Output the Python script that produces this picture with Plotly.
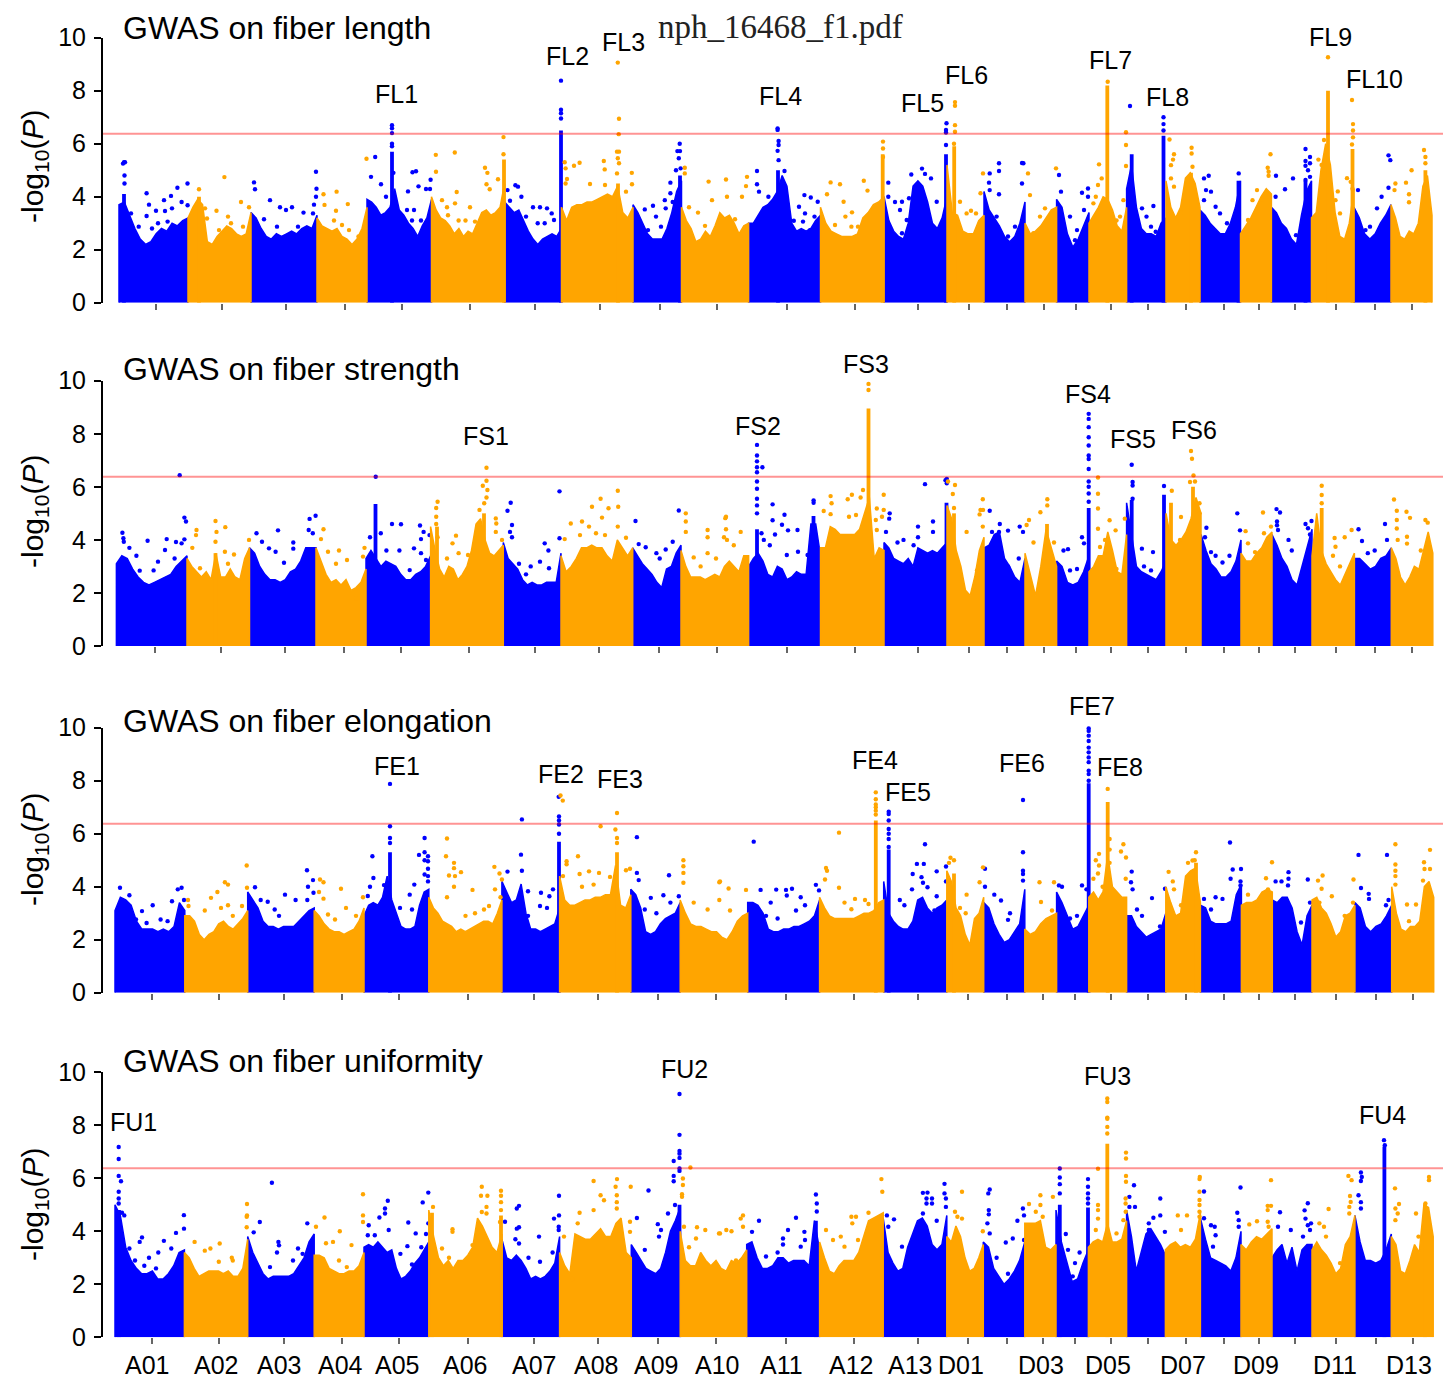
import numpy as np
import plotly.graph_objects as go

W, H = 1443, 1378
CHROMS = ["A01","A02","A03","A04","A05","A06","A07","A08","A09","A10","A11","A12","A13",
          "D01","D02","D03","D04","D05","D06","D07","D08","D09","D10","D11","D12","D13"]
THRESHOLD = 6.38

FL_edges = [119,188,251,317,367,431.5,504.6,561.5,633,681.5,748.6,820.5,884,947,984,1025,1056.6,1089,1126.6,1166,1200,1240.5,1271.4,1311.5,1354,1391,1432]
FS_edges = [116.4,187,249.5,316,366,430.6,503.3,561,632.7,681,748.6,820.5,884,947,984,1025,1056.6,1089,1126.6,1166,1201,1241,1272,1312,1354.4,1391.3,1432.8]
FE_edges = [115,184.8,247.7,314.2,364,428.8,501.9,559.6,630.8,680.2,747.7,819.6,883.7,946.8,983.7,1024.8,1056.6,1088.8,1126.6,1165.8,1200.4,1241.4,1272.3,1312,1354.9,1391.7,1433.7]
FU_edges = [115,184.4,247.7,314.2,364,428.8,501.9,559.6,631.3,680.2,746.7,819.6,883.2,946.8,983.3,1024.8,1056,1088.4,1126.6,1165.4,1200.4,1241,1272,1312,1354.9,1391.3,1433.2]

FL_ticks = [155.5,222,286,345,402,470,535,600,660,717,787,855,918,968.5,1007,1043.6,1075.5,1110.5,1148.3,1185.7,1223.5,1258.5,1294.5,1336,1375,1412]
FS_ticks = [154.6,220.7,285.4,344,400.8,469.3,534.5,599,659,717,787,855,918,968.5,1007,1043.6,1075.5,1110.5,1148.3,1185.7,1223.5,1258.5,1294.5,1336,1375,1412]
FE_ticks = [152,219,283.5,342,399,468,533.5,598,658,716,786,853.7,917.8,968,1006.8,1043,1075,1110.5,1148.3,1185.7,1223.5,1258.5,1295,1336,1376,1413]
FU_ticks = FE_ticks

# Dense body height along each chromosome (evenly spaced stations, -log10 P)
FL_ridge = [
 [3.7,3.8,3.3,2.8,2.4,2.2,2.3,2.6,2.8,2.7,3.0,2.9,3.1,3.2],[3.2,3.6,3.9,3.7,2.3,2.2,2.5,2.7,2.9,2.8,2.6,2.5,2.6,3.4],
 [3.4,3.2,2.8,2.5,2.4,2.6,2.5,2.6,2.7,2.6,2.8,2.9,2.8,3.3],[3.2,2.9,2.8,2.7,2.8,2.5,2.4,2.2,2.4,2.8,3.6],
 [3.9,3.8,3.6,3.3,3.4,3.6,4.3,3.5,3.3,3.0,2.8,2.5,2.9,3.2,3.9],[4.0,3.5,3.2,3.1,2.9,2.6,2.8,2.5,2.7,2.6,3.0,3.4,3.5,3.3,3.4,3.6,4.5],
 [3.8,3.6,3.4,3.5,3.1,2.7,2.4,2.2,2.4,2.5,2.6,2.5,2.8],[3.6,3.1,3.6,3.7,3.7,3.8,3.8,3.9,4.0,4.1,4.0,4.4,3.4,3.2,3.6],
 [3.7,3.4,3.0,2.6,2.4,2.4,2.4,2.8,3.4,4.2,4.6],[3.6,3.1,2.8,2.3,2.4,2.7,2.5,2.9,3.4,3.2,3.3,3.0,2.6,2.9,3.0],
 [3.0,3.0,3.3,3.6,3.7,3.9,4.2,4.8,4.4,3.0,2.7,2.8,2.7,2.8,3.1,3.3],[3.6,3.0,2.7,2.6,2.5,2.5,2.5,2.6,3.2,3.4,3.7,3.8,4.0],
 [4.0,3.1,2.7,2.5,2.4,3.0,4.4,4.6,4.4,3.8,3.0,2.8,3.2,4.0],[5.2,3.4,3.3,2.7,2.6,2.6,3.1,3.3],[4.2,3.5,3.2,2.9,2.5,2.3,2.5,3.0,3.8],
 [3.0,2.6,2.7,2.9,3.2,3.5,3.6],[3.9,3.6,2.6,2.1,2.4,2.9,3.4],[3.0,3.3,3.6,4.0,3.9,3.5,2.9,2.7,3.6],[4.3,5.2,3.6,2.8,2.6,2.6,2.5,3.0,3.2],
 [4.6,3.6,3.2,3.6,4.7,4.9,4.5,3.6],[3.5,3.3,3.0,2.8,2.6,2.6,3.0,3.6,4.6],[2.6,2.9,3.2,3.6,4.0,4.3,4.1],[3.6,3.4,3.0,2.8,2.4,2.2,3.3,4.2,4.6],
 [3.2,3.4,5.0,6.0,5.2,3.4,2.5,2.4,3.0,4.3],[3.6,3.2,2.6,2.4,2.6,3.0,3.3,3.7],[3.7,3.2,2.5,2.4,2.7,2.6,3.0,4.4,4.8,3.3]]
FS_ridge = [
 [3.1,3.4,3.3,2.9,2.6,2.4,2.3,2.4,2.5,2.6,2.7,3.0,3.2,3.4],[3.3,3.0,2.8,2.6,2.8,2.5,3.5,2.6,2.6,2.9,2.6,2.5,3.3,3.7],
 [3.7,3.5,3.0,2.7,2.5,2.5,2.4,2.5,2.8,2.9,3.2,3.7,3.7,3.7],[3.7,3.2,2.7,2.4,2.5,2.3,2.5,2.1,2.2,2.4,2.9],
 [3.3,3.6,3.3,3.0,3.2,3.1,3.0,2.7,2.5,2.5,2.7,2.8,3.0,3.4],[4.5,3.6,2.9,2.6,3.0,2.9,2.5,2.7,3.0,3.6,4.6,4.8,4.0,3.5,3.4,3.6,3.8],
 [3.9,3.3,3.1,2.9,2.5,2.3,2.4,2.3,2.3,2.4,2.4,2.4,3.5],[3.4,2.8,3.0,3.3,3.7,3.7,3.8,3.7,3.7,3.4,3.2,4.0,3.7,3.4,3.7],
 [3.7,3.4,3.1,2.9,2.7,2.4,2.2,2.9,3.0,3.5,3.8],[3.6,3.0,2.6,2.6,2.6,2.5,2.6,2.7,2.6,3.0,3.2,3.0,2.8,3.4,3.4],
 [3.0,3.3,3.5,3.2,2.7,2.6,3.0,2.9,2.5,2.6,2.8,2.7,2.7,4.6,4.6,3.4],[3.7,3.7,4.5,4.4,4.2,4.2,4.2,4.2,4.4,5.0,5.6,3.3,3.7,3.6],
 [3.9,3.7,3.3,3.2,3.1,3.3,3.0,3.7,3.6,3.5,3.6,3.5,3.7,3.9],[5.3,4.8,3.6,3.0,2.1,1.9,2.6,3.6,4.1],[3.7,3.8,4.2,4.3,3.3,3.0,2.6,2.4,3.3],
 [3.5,2.7,1.9,3.0,4.4,3.7,3.0],[3.2,3.0,2.4,2.3,2.4,2.8,3.4],[2.8,3.0,3.4,3.4,4.3,3.6,2.8,2.7,4.2],[5.4,4.2,3.0,2.8,2.7,2.6,2.5,2.8,3.2],
 [5.0,4.0,3.8,4.0,4.3,4.8,5.6,5.0],[4.2,3.6,3.1,2.9,2.6,2.6,2.8,3.2,4.0],[3.5,3.2,3.2,3.5,3.7,4.1,4.3],[4.2,3.8,3.3,3.0,2.5,2.3,3.0,3.6,4.4],
 [3.4,5.0,3.6,3.1,2.8,2.5,2.3,2.7,3.1,3.5],[3.3,3.3,3.1,2.9,3.0,3.3,3.4,3.7],[3.7,3.3,2.6,2.3,2.6,3.0,2.9,3.6,4.3,3.5]]
FE_ridge = [
 [3.1,3.6,3.5,3.3,2.7,2.4,2.4,2.4,2.3,2.4,2.3,2.5,3.4,3.1],[2.9,2.9,2.7,2.2,2.0,2.2,2.3,2.6,2.7,2.5,2.4,2.6,2.8,3.1],
 [3.8,3.5,3.2,2.7,2.5,2.5,2.4,2.5,2.5,2.5,2.7,2.9,3.1,3.2],[3.1,2.9,2.6,2.4,2.3,2.3,2.2,2.3,2.4,2.7,3.2],
 [2.9,3.3,3.4,3.3,3.6,4.4,3.5,3.0,2.5,2.4,2.4,2.5,3.3,3.8,3.9],[3.6,3.2,3.0,2.7,2.6,2.5,2.3,2.4,2.3,2.4,2.5,2.6,2.7,2.7,2.6,3.0,3.5],
 [4.2,3.8,3.4,3.5,4.1,3.0,2.4,2.4,2.3,2.4,2.5,2.6,3.2],[4.4,3.5,3.3,3.3,3.4,3.5,3.5,3.6,3.6,3.7,3.7,4.8,3.3,3.2,3.7],
 [3.9,3.7,3.2,2.3,2.2,2.3,2.6,2.8,2.9,3.0,3.4],[3.5,3.0,2.6,2.5,2.5,2.4,2.3,2.3,2.1,2.0,2.3,2.7,2.9,3.0],
 [3.4,3.4,3.3,3.0,2.4,2.3,2.3,2.4,2.4,2.5,2.5,2.6,2.7,2.9,3.5],[3.6,3.2,2.9,2.8,2.8,2.8,2.8,2.8,2.9,3.0,3.0,3.1,3.4,3.5],
 [4.2,3.0,2.7,2.5,2.4,2.4,2.7,3.5,3.6,3.2,3.0,3.2,3.3,3.5],[4.6,4.2,3.2,2.9,2.2,1.8,2.8,3.0,3.6],[3.4,3.2,2.6,2.2,1.9,2.0,2.3,2.6,3.9],
 [2.4,2.2,2.3,2.6,2.8,2.9,3.0],[3.8,3.4,2.9,2.4,2.5,2.9,3.3],[3.6,3.8,3.5,3.8,5.2,4.0,3.8,3.6,3.6],[2.9,2.9,2.5,2.3,2.1,2.2,2.3,2.4,3.0],
 [4.0,3.4,2.9,3.0,4.4,4.6,4.7,3.4],[3.3,3.2,2.7,2.6,2.6,2.6,2.7,3.7,4.1],[3.3,3.4,3.4,3.5,3.8,3.9,3.8],[3.5,3.4,3.6,3.6,3.2,2.3,1.8,2.9,3.3],
 [3.5,3.6,3.2,3.0,2.6,2.1,2.3,2.9,3.0,3.3],[3.4,3.2,2.5,2.3,2.5,2.6,2.9,3.3],[4.0,3.0,2.4,2.3,2.5,2.5,2.7,4.0,4.2,3.6]]
FU_ridge = [
 [5.0,4.6,3.4,2.9,2.6,2.4,2.4,2.5,2.2,2.2,2.4,2.7,3.2,3.3],[3.2,3.0,2.6,2.3,2.4,2.5,2.5,2.5,2.4,2.5,2.3,2.3,2.6,3.7],
 [3.8,3.2,2.8,2.4,2.2,2.3,2.3,2.3,2.3,2.4,2.7,3.0,3.6,3.9],[3.1,3.1,3.0,2.6,2.5,2.4,2.4,2.5,2.5,2.7,3.2],
 [3.4,3.5,3.4,3.6,3.4,3.2,3.3,2.6,2.2,2.3,2.5,2.8,3.0,3.3,3.6],[4.8,3.8,3.0,2.7,2.9,2.6,2.9,2.9,3.1,3.4,4.5,4.2,3.8,3.4,3.2,3.9],
 [3.7,3.0,2.9,3.1,2.9,2.6,2.2,2.3,2.2,2.3,2.5,2.8,3.8],[3.2,2.7,2.4,3.9,3.8,3.7,3.7,3.9,4.1,3.8,3.8,4.3,4.5,3.2,3.0],
 [3.5,3.2,2.9,2.6,2.5,2.4,2.6,3.2,4.0,4.4,4.9],[4.0,2.9,2.7,2.7,3.2,2.9,2.7,2.9,2.6,2.5,2.9,2.8,3.0,3.3],
 [3.5,3.6,3.0,2.6,2.6,2.7,3.0,3.0,2.8,2.9,2.9,2.9,2.7,4.4,3.3],[3.6,3.0,2.5,2.4,2.7,2.9,2.9,2.9,3.2,3.8,4.4,4.5,4.6,4.7],
 [4.5,3.2,2.8,2.5,2.6,3.4,3.9,4.4,4.5,4.2,3.5,3.3,3.5,4.6],[3.8,3.6,4.2,3.8,3.0,2.5,2.6,3.0,3.5],[3.6,3.4,2.6,2.3,2.0,2.2,2.5,2.9,3.6],
 [4.3,4.3,4.3,4.4,3.4,3.3,3.5],[4.8,3.6,2.9,2.1,2.2,2.8,3.3],[3.4,3.6,3.7,3.6,4.3,3.6,3.6,3.7,4.4],[4.8,3.8,2.5,3.2,3.9,4.1,3.8,3.5,3.1],
 [3.3,3.5,3.6,3.4,3.5,3.4,3.7,4.7],[4.5,3.7,3.0,2.9,2.8,2.7,2.5,3.0,4.0],[3.5,3.3,3.6,3.8,3.7,3.9,4.1],[3.0,3.3,3.5,2.8,3.4,2.5,3.3,3.5,3.5],
 [3.3,3.6,3.3,3.1,2.8,2.4,2.6,3.5,3.8,4.6],[4.6,3.6,2.9,2.9,2.8,2.9,3.3,3.9],[3.8,3.5,2.5,2.4,2.9,3.5,3.2,5.0,4.9,3.8]]

# Narrow peaks: position, height of the solid column
FL_peaks = [(124,4.1),(199,4.0),(392,5.7),(504,5.4),(561,6.5),(618,4.5),(680,4.8),(778,5.0),(882.7,5.6),(946,5.6),(954.2,5.9),(1107.3,8.2),(1131.7,5.6),(1163.5,6.3),(1191,4.9),(1238.5,4.6),(1328,8.0),(1352.5,5.8),(1425.4,5.0),(1305.5,4.6)]
FS_peaks = [(375.5,5.35),(215.5,3.5),(437,4.5),(484,5.0),(757,4.4),(813.5,4.9),(868.5,8.95),(946.5,5.4),(954,5.0),(1047,4.6),(1088.7,5.2),(1131.7,5.5),(1164,5.7),(1171,5.4),(1193,6.0),(1321.7,5.2)]
FE_peaks = [(390,5.3),(559,5.7),(617,5.3),(875.8,6.5),(888.7,5.4),(1088.7,7.9),(1107.7,7.2),(1196,4.9),(954,4.5)]
FU_peaks = [(119,4.8),(432,4.7),(501,4.6),(679.5,5.0),(815.9,4.4),(1059.8,5.0),(1088,4.9),(1107.3,7.3),(1384.4,7.2),(1425,5.0)]

# Individually visible SNPs
FL_dots = [(124,5.3),(123,5.25),(125,5.3),(124.5,4.8),(124.5,4.5),(146.6,4.13),(149,3.7),(146.6,3.27),(164,3.87),(171,4.03),(177.4,4.34),(187.5,4.5),(181.6,3.8),(131,3.37),(138.7,2.87),(156,3.47),(165,3.46),(172,3.56),(187.6,3.68),(152,2.8),(158,3.0),(167.6,3.06),
(224.4,4.74),(199,4.28),(241,3.8),(205,3.56),(216.5,3.47),(228,3.25),(207,3.18),(219,2.74),(231,3.0),(243,2.87),(249,3.6),
(254,4.54),(255,4.28),(270,3.87),(280,3.6),(292,3.6),(286,3.5),(303.5,3.4),(316,4.94),(316.5,4.3),(316,4.0),(314,3.7),(264,3.15),(277,2.87),(298,2.87),(313,3.37),
(323.5,4.09),(336.6,4.19),(347.8,3.72),(324.5,3.69),(336,3.47),(342,2.93),(349,2.74),(358.5,2.5),(334,3.1),
(366.5,5.43),(375.2,5.5),(371,4.75),(381,4.47),(386,4.0),(412.5,4.92),(416,4.96),(408,4.2),(418.5,4.39),(430.6,4.64),(426,4.29),(430,4.29),(392,6.7),(392,6.58),(392,6.4),(392,6.0),(392,5.9),(393.4,4.9),(407,3.5),(414,3.5),(421,3.1),(412,3.1),
(435.8,5.58),(454.8,5.67),(436,4.94),(485,5.09),(487.4,4.9),(503.5,6.25),(503.5,5.6),(498,4.66),(486.5,4.47),(489.7,4.28),(456.7,4.18),(455,3.75),(470,3.6),(447,3.6),(448,3.3),(458.6,3.1),(465.5,3.1),(442,3.87),(475,3.06),
(507.5,4.25),(515.4,4.43),(518,4.38),(510,3.85),(521.4,4.0),(533,3.6),(540,3.6),(547,3.56),(551.7,3.37),(512,3.37),(526,3.25),(537.7,3.0),(544.7,3.0),(554,3.12),
(561,8.38),(561,7.28),(561,7.15),(561,6.95),(564.7,5.3),(565.6,5.07),(579.6,5.28),(574,5.17),(603.8,5.35),(604.7,5.03),(617.8,9.06),(619,6.94),(618.7,6.36),(617,5.7),(619,5.7),(617.8,5.45),(619,5.26),(617,4.88),(631.8,4.9),(632,4.47),(626,4.19),(567,4.67),(590,4.48),(605,4.44),(565.6,4.5),
(679.7,6.0),(677.4,5.72),(680,5.72),(678.8,5.45),(676,5.0),(680.6,5.07),(670.4,4.53),(670.4,4.13),(664.8,3.87),(653,3.66),(644.8,3.52),(672.7,3.8),(656,3.25),(661,2.87),(665.7,3.56),(648,2.74),
(684.8,5.09),(684.8,4.88),(708.6,4.57),(726,4.65),(747,4.75),(746,4.4),(727,4.0),(742,4.0),(735,3.15),(689,3.6),(698,3.4),(712,3.87),(705,2.9),
(777.6,6.58),(777.6,6.52),(778.6,6.1),(778.6,5.95),(777.6,5.73),(778.6,5.38),(757,4.97),(757,4.47),(759,4.19),(768.4,4),(784.5,4.97),(804.4,4.06),(810.8,3.97),(817.7,3.81),(799,3.62),(805,3.37),(793.8,3.09),(814.5,3.25),(789,2.74),(803,3.06),(810,2.74),
(830.6,4.54),(840,4.47),(863.8,4.6),(827,4.09),(843.6,3.81),(867.5,4.23),(883,6.08),(883,5.82),(883,5.5),(852,3.41),(845.4,3.25),(835,2.93),(858,2.87),(851.4,2.87),
(888.3,4.53),(911.3,4.84),(922,5.06),(925,4.86),(931,4.69),(909,3.94),(902,3.81),(900,3.5),(906.7,3.12),(902,2.62),(904,2.36),(936.7,3.81),(888.3,4.0),(895,3.8),(946,6.52),(946,6.42),(946.5,6.77),(946,5.95),
(955,7.57),(955,7.43),(955,6.7),(955,6.45),(954,6.0),(983,4.88),(980.5,4.13),(960,3.81),(971,3.47),(966.6,3.37),(976,3.37),
(999,5.26),(999,4.97),(989.7,4.88),(989,4.53),(1022,5.27),(1023.4,5.26),(1022,4.5),(989.7,4.25),(999,4.09),(996.6,3.25),(1015,2.87),(1008,2.5),
(1028,4.88),(1056,5.07),(1059,4.82),(1030,4.06),(1045,3.56),(1040,3.25),(1033.5,2.62),
(1061,4.19),(1082,4.15),(1088,4.31),(1088,4.0),(1070,3.25),(1077,2.74),(1084,3.5),(1075,2.36),
(1107.7,8.34),(1126,6.43),(1126,5.95),(1126,5.16),(1099,5.22),(1101.7,4.69),(1098,4.44),(1095.8,4.0),(1093.4,3.75),(1116.5,3.1),(1123.4,3.87),(1120,3.25),
(1130,7.42),(1163.5,7.0),(1163.5,6.74),(1163.5,6.5),(1142,3.56),(1153.4,3.65),(1146.5,3.25),(1137,3.12),(1151,2.87),(1155.7,2.68),
(1169.5,6.16),(1174,5.6),(1173,5.4),(1171,5.19),(1191.6,5.85),(1191.6,5.63),(1192.5,5.13),(1171,4.69),(1174,4.38),(1181,3.4),
(1208.7,4.79),(1204,4.69),(1206,4.25),(1211,4.19),(1238.7,4.88),(1215.6,3.62),(1220,3.37),(1227,3),(1204,3.87),
(1267.7,5.09),(1268.6,4.94),(1270.5,5.6),(1268.6,4.79),(1257,4.25),(1252.5,3.87),(1248,3.12),(1262,3.9),
(1305.5,5.8),(1310,5.5),(1305.5,5.35),(1305.5,5.17),(1310,5.26),(1293,4.69),(1276,4.79),(1285,4.28),(1308,5.0),(1310,4.75),(1305.5,4.63),(1275.6,4.0),(1296,2.55),(1299,2.1),
(1328,9.26),(1352,7.65),(1353,6.74),(1353,6.5),(1353,6.24),(1352,5.97),(1324,6.14),(1318.4,5.4),(1321.6,5.2),(1337.8,4.2),(1335.5,3.87),(1340,3.37),(1347,4.7),(1350.7,4.56),(1352.5,4.3),
(1358,4.25),(1388.5,5.56),(1390.3,5.38),(1388.5,4.34),(1381.6,4),(1377,3.56),(1370,2.87),(1365.5,2.74),
(1411.6,5.0),(1406,4.53),(1409,4.09),(1409,3.79),(1424,5.76),(1425.4,5.5),(1425.4,5.26),(1395.4,4.5),(1394.5,4.25)]
FS_dots = [(179.7,6.44),(184.4,4.84),(186,4.69),(122.4,4.27),(123.4,4.06),(123.8,3.93),(129.4,3.7),(147.6,3.97),(166.7,4.03),(176,3.92),(181.6,3.87),(184.4,4.02),(165,3.62),(136.4,3.4),(158,3.18),(139.7,2.84),(153.6,2.85),(174.6,3.3),
(215.5,4.71),(225.3,4.48),(196.5,4.37),(196,4.18),(216.5,4.3),(192.3,3.7),(215.5,3.93),(224.9,3.55),(234,3.45),(249,4),(228,3.1),(200,2.93),
(256.5,4.25),(278,4.36),(262,3.93),(269,3.68),(275.6,3.55),(293.3,3.9),(309.6,4.79),(315.6,4.91),(308.7,4.37),(312.8,4.25),(293.3,3.67),(284,3.14),
(323.5,4.4),(321,4.03),(328,3.55),(339,3.6),(347,3.24),(363,3.37),(364.5,3.7),(336,3.1),(356,1.8),
(375.7,6.38),(370,4.1),(392,4.6),(401,4.59),(380.8,4.25),(420,4.54),(423.6,4.3),(429.5,4.18),(421,4.03),(386.4,3.6),(399.4,3.6),(414,3.68),(421,3.5),(426,3.24),(409.7,2.86),
(437.6,5.44),(436.2,5.2),(436.2,4.87),(436.2,4.6),(456,4.16),(452.5,3.87),(437.6,4.1),(486.5,6.72),(486.5,6.23),(482.8,6.04),(487.4,5.88),(486.5,5.6),(484.2,5.38),(479.5,5.13),(495.8,4.81),(496.3,4.62),(495.8,4.3),(502,4),(468,3.43),(447,3.3),(458.6,3.5),
(510.7,5.4),(507.5,5.1),(512,4.56),(510,4.3),(512,4.1),(559.5,5.83),(559.5,4.06),(544.7,3.87),(548.4,3.6),(519,3.1),(530.7,3),(540,3.18),(549,2.93),(526,2.7),
(570.8,4.62),(564.7,4.03),(600.6,5.55),(592,5.25),(608.5,5.19),(617.8,5.85),(618.2,5.25),(602,4.84),(582,4.69),(589,4.5),(617.8,4.5),(580,4.18),(596,4.25),(605,4.18),(626,4.08),
(635.5,4.71),(638.7,3.84),(678.8,5.11),(645.7,3.72),(656.4,3.5),(665.7,3.64),(672.7,3.93),(659.7,3.3),(661,1.9),
(685.8,5.0),(685.8,4.69),(685.8,4.3),(707.6,4.37),(707.6,4.1),(725.3,4.82),(724,4.1),(693.7,3.34),(707.6,3.5),(716,3.3),(700.6,3.0),(726,4.87),(726,4.4),(740.7,4.3),(727,4.0),(733.8,3.8),
(757,7.58),(757,7.18),(757,6.96),(757,6.74),(757,6.55),(757,6.2),(762.4,6.74),(757,5.93),(757,5.55),(757,5.3),(757,5.0),(772.6,5.34),(772.6,4.74),(784.5,4.95),(782,4.57),(788,4.36),(797.5,4.37),(775,4.2),(761.5,4.25),(763.8,4.0),(769.8,3.8),(798,3.55),(786.8,3.43),(807.6,3.43),(813.6,5.49),(813.6,5.4),
(830.6,5.65),(851.9,5.7),(847.7,5.53),(863,5.88),(860.6,5.6),(823.7,5.09),(831.6,5.38),(830.6,4.97),(849,4.87),(856,4.94),(868.5,9.88),(868.5,9.65),(876.8,5.18),(883.7,5.7),(883.7,5.13),(882,4.87),(875.8,4.75),(876.8,4.37),
(889.7,5.0),(889.2,4.8),(886,4.3),(925,6.1),(933,4.69),(933,4.3),(918,4.5),(918,4.1),(903.5,4.0),(913.6,3.8),(946.8,6.3),(946.8,6.13),(897.5,3.9),(945.5,6.25),(948,6.2),
(955,6.07),(952.8,5.73),(954,5.2),(966.6,4.3),(982.8,5.53),(980.5,5.13),(979.6,4.96),(983,5.13),(982.8,4.5),(977,2.85),
(989.7,5.1),(999.8,4.6),(999,4.3),(992,4.3),(1008,4.35),(1019.7,4.5),(1023,4.3),(996.6,4.1),(1018.8,3.3),(1008,3.0),
(1029,4.75),(1040.4,5.04),(1047.3,5.53),(1047.3,5.3),(1026.6,4.56),(1033.5,3.9),
(1054,3.9),(1082,4.1),(1063.5,3.6),(1068,3.65),(1077,2.9),(1084,3.87),(1070,2.85),
(1088.7,8.75),(1088.7,8.56),(1088.7,8.25),(1088.7,7.87),(1088.7,7.56),(1088.7,7.18),(1088.7,7.05),(1088.7,6.67),(1088.7,6.2),(1088.7,6.0),(1088.7,5.75),(1088.7,5.44),
(1098,6.35),(1098,5.74),(1098,5.18),(1098,4.42),(1109.6,4.74),(1100,3.73),(1105,4.0),(1115.6,4.36),(1124.8,4.8),(1116.5,2.9),
(1131.7,6.83),(1132.6,6.18),(1132.6,6.05),(1164,6.03),(1132.6,5.55),(1141.9,3.67),(1153,3.54),(1144,3.0),(1151,2.85),
(1191,7.35),(1192,7.06),(1193.5,6.43),(1190,6.18),(1195,6.2),(1171.8,5.85),(1199.5,5.38),(1199.5,5.0),(1181,4.86),(1180,4.0),
(1237.3,5.0),(1240,4.36),(1206.4,4.46),(1205,4.1),(1211,3.54),(1229.5,3.4),(1215.6,3.4),(1222.5,3.15),
(1263,5.03),(1245.6,4.33),(1248,3.87),(1264,4.25),(1271,4.5),(1255,3.54),(1268.6,4.0),
(1276.5,5.16),(1280,5.03),(1277,4.69),(1277,4.55),(1278,4.37),(1288.5,4.0),(1305.5,4.6),(1311.5,4.71),(1308,4.44),(1310,4.2),(1291.8,3.6),
(1321.7,6.04),(1321.7,5.69),(1321.7,5.38),(1334.6,4.07),(1344.7,4.1),(1351.6,4.37),(1335.5,3.74),(1333,3.4),(1340,3.0),
(1358.5,4.4),(1362,3.96),(1385,4.6),(1387,4.0),(1374.7,3.6),(1367.8,3.5),
(1394,5.52),(1396.8,5.1),(1406.5,5.06),(1410,4.83),(1396.8,4.75),(1396.8,4.43),(1407,4.12),(1407,3.86),(1425.4,4.75),(1427.7,4.65),(1420.8,3.6),(1397.7,4.0)]
FE_dots = [(120,3.96),(129.4,3.68),(142,3.08),(152.7,3.3),(160.6,2.76),(167.6,2.7),(172,3.45),(177.8,3.9),(181.6,3.96),(184,3.5),(136,2.76),(146.6,2.63),
(188,3.5),(188.5,3.27),(211,3.58),(217.4,3.8),(224.9,4.17),(228,4.08),(246.7,4.8),(228,3.3),(221,3.2),(232.8,2.9),(242,3.27),(247,3.96),(204.8,3.1),
(255,3.98),(260.7,3.5),(267.7,3.43),(285,3.7),(307,4.62),(313,4.25),(308,4.0),(313.5,3.77),(279,2.9),(295.6,3.5),(307.3,3.5),(274.7,3.14),
(320,4.27),(323.5,4.17),(341,3.92),(319,3.8),(323.5,3.55),(328,2.95),(335,2.76),(346,3.2),(363,3.6),(356,2.9),
(390,7.88),(390,6.28),(390,5.84),(390,5.65),(372.4,5.15),(373.4,4.33),(419,5.2),(424.6,5.3),(424.6,5.84),(428,5.15),(428,4.96),(424.6,5.0),(428,4.68),(424.6,4.46),(428,4.4),(428,4.2),(414.3,4.08),(409.7,3.7),(400,3.2),(412,3.14),(384,4.06),(370,4.0),(367.8,3.65),
(447,5.82),(446,5.15),(454,4.9),(454,4.7),(461,4.55),(449,4.42),(455,4.4),(472.5,3.88),(494.4,4.75),(499.5,4.5),(501.9,4.27),(454,4.0),(447,3.6),(495,3.9),(500.5,3.6),(484,3.14),(465.5,2.9),(475,3.0),(489,3.27),
(521.9,6.54),(521,5.21),(521.9,4.6),(507.5,4.57),(528,3.83),(541,3.77),(553,3.9),(549.4,3.64),(540,3.27),(528,2.9),(547,3.2),
(560.5,7.44),(558.7,7.39),(562.8,7.25),(559,6.65),(559,6.5),(559,6.35),(559,6.0),(566.6,4.96),(566.6,4.85),(578,5.15),(600.6,6.28),(617,6.78),(615.4,6.16),(617,5.84),(617,5.65),(579.6,4.48),(589,4.58),(599,4.52),(610,4.37),(626,4.62),(630,4.68),(582,4.0),(593.6,4.08),(563,4.4),
(636.9,5.87),(636.9,4.52),(638.7,4.25),(669,4.43),(663.4,3.68),(650.8,3.58),(644.8,3.14),(656.4,3.0),(670.4,3.4),(678.8,3.64),
(683.4,5.0),(683.4,4.77),(683.4,4.52),(683.4,4.15),(719.3,4.17),(728.6,3.93),(693.7,3.4),(707.6,3.14),(719.3,3.5),(720,4.2),(746,3.88),(730,3.1),
(753.7,5.7),(760.6,3.88),(770.7,3.4),(776.2,3.89),(786,3.88),(792,3.92),(800.7,3.6),(815.9,4.07),(819,3.86),(786.8,3.67),(805,3.3),(796,3.1),(766,2.9),(777.6,2.8),
(839,6.04),(826,4.71),(827,4.6),(825,4.27),(839,3.96),(844.5,3.4),(855,3.54),(865,3.5),(868.5,3.35),(851.4,3.15),
(875.8,7.56),(875.8,7.3),(875.8,7.1),(875.8,7.0),(875.8,6.87),(875.8,6.72),
(888.7,6.83),(888.7,6.74),(888.7,6.5),(888.7,6.18),(888.7,6.0),(888.7,5.8),(888.7,5.5),
(925,5.6),(916.9,4.86),(923.8,4.86),(912.7,4.48),(921.5,4.36),(936.7,4.58),(946,4.76),(946,4.2),(923,4.15),(912,3.9),(936.7,3.64),(927.5,3.98),(904.4,3.3),(899.8,3.5),(934.4,3.1),
(950.5,5.09),(954,5.0),(949,4.9),(966.6,3.7),(960,3.2),(965.7,3.0),
(983,4.73),(985,4.68),(1023,7.27),(1023,5.3),(1023,4.6),(1023,4.48),(1023,4.23),(979.6,4.17),(985,4.0),(994.3,3.7),(1001,3.48),(1010,3),(1008,2.75),
(1039.5,4.17),(1041,3.42),(1054,4.17),(1052,3.1),
(1058.9,4.05),(1062,4.0),(1082,4.05),(1077,2.9),(1070,2.8),(1086.5,3.9),
(1088.7,9.97),(1088.7,9.88),(1088.7,9.7),(1088.7,9.5),(1088.7,9.25),(1088.7,9.07),(1088.7,8.88),(1088.7,8.7),(1088.7,8.38),(1088.7,8.25),(1088.7,8.0),
(1107.7,7.69),(1123.4,5.6),(1121,5.33),(1126,5.1),(1099,5.24),(1095.8,5),(1099,4.8),(1098,4.5),(1125.7,4.3),(1109.6,5.8),(1109.6,5.4),(1109.6,4.9),(1093.4,4.3),(1102.6,4.0),
(1131.7,4.57),(1131,4.17),(1132.6,3.9),(1152,3.57),(1165,3.92),(1137,3.14),(1142,2.9),(1160,2.5),
(1168.6,4.56),(1172.8,4.2),(1196,5.3),(1192.5,4.99),(1194.7,5.0),(1188,4.9),(1181,3.3),(1174,3.9),
(1230,5.67),(1232.7,4.65),(1241,4.67),(1230.6,4.3),(1240.5,4.2),(1240.5,4.05),(1215.6,3.6),(1204,3.54),(1222.5,3.54),(1211,3.14),
(1272,4.92),(1266,4.32),(1248,3.7),(1268,3.9),(1257,3.3),
(1288.5,4.55),(1275.6,4.2),(1281.5,4.2),(1288.5,4.3),(1288,4.05),(1307.8,4.27),(1310,3.4),(1301,2.65),
(1322.6,4.42),(1318,4.23),(1321.6,3.92),(1331.8,3.64),(1319.4,3.4),(1344.7,2.9),(1353,3.4),(1353.5,4.27),
(1358.5,5.2),(1387,5.2),(1361,3.95),(1368.7,3.73),(1369,3.54),(1388.5,3.5),(1386,3.3),
(1395.4,5.6),(1395.4,4.84),(1395.4,4.6),(1395.4,4.4),(1395.4,4.08),(1424,4.92),(1430,5.39),(1424.5,4.67),(1430,4.67),(1423,4.23),(1407,3.33),(1416,3.33),(1409,2.7)]
FU_dots = [(118.7,7.18),(118.7,6.73),(118.7,6.09),(121,5.89),(118.7,5.49),(118.7,5.24),(118.7,5.05),(122,4.7),(124.3,4.6),(183.9,4.61),(184,4.1),(176,3.94),(163.9,3.64),(142,3.77),(139.7,3.6),(171.3,3.35),(158.3,3.2),(149,3.0),(129.4,3.35),(135,2.9),(144.3,2.7),(156,2.6),
(194.6,3.6),(204.8,3.27),(210.4,3.35),(219.7,3.54),(231.8,3),(247,5.03),(246.7,4.55),(247,4.6),(246.7,4.15),(232.8,2.9),(218.8,2.85),
(271.9,5.83),(259.8,4.35),(253.7,3.96),(278.4,3.6),(279,3.47),(298,3.35),(307.3,4.3),(302.6,3.15),(293,2.9),(277,3.2),(270,2.65),
(316,4.17),(324.5,4.52),(339.8,4),(333,3.6),(339,2.9),(351.5,3.48),(363,5.4),(363,4.6),(363,4.35),(326,3.55),(346.8,2.65),
(387.8,5.15),(385,4.86),(385,4.67),(379.4,4.52),(368.7,4.23),(367.8,3.85),(374.8,3.85),(388.7,4.05),(408.3,4.33),(422.7,5.09),(428.3,5.46),(415.7,3.92),(428.3,4.3),(426,3.9),(407.4,3.44),(400.4,3.15),(421.3,3.4),(412,2.75),
(433,4.92),(452.5,4.08),(452.5,3.98),(481.8,5.68),(481,5.34),(487.4,5.34),(486.5,4.92),(481.8,4.73),(486.5,4.67),(501,5.53),(501,5.34),(501,5.1),(501,4.8),(500,4.35),(442,3.35),(449,3.0),(472.5,3.48),
(519,4.96),(516.8,4.86),(505,4.36),(519,4.15),(516.8,4.1),(539,3.8),(515.4,3.7),(519,3.54),(554,4.48),(559,5.34),(559,4.6),(558.7,4.17),(558.7,4.05),(552.6,3.2),(528.5,3),(540,2.85),
(593.6,5.9),(617,5.97),(615.6,5.68),(630.7,5.68),(600.6,5.36),(604,5.17),(616.8,5.36),(616.8,5.1),(593.6,4.8),(579.6,4.7),(616.8,4.86),(564,3.8),(577.7,4.3),(630,4.36),(630,3.98),(572.6,2.2),
(636.9,4.5),(648.5,5.54),(673.7,6.65),(673.7,6.09),(673.7,5.89),(679.5,9.18),(679.5,7.64),(679.5,7.03),(679.5,6.93),(679.5,6.77),(679.5,6.37),(679.5,6.28),(675,4.99),(668,4.67),(657.8,4.27),(661,4.05),(659,3.8),(644.8,3.3),
(682.9,5.99),(682.9,5.75),(682,5.4),(682,5.3),(690.4,6.41),(684,4.17),(697,4.15),(705.3,4.05),(696,3.73),(719,3.92),(726.3,4.05),(689,3.4),(743,4.6),(740.7,4.48),(731.5,4.0),(720,3.92),(743,4.17),(736,2.9),
(759,4.4),(752,3.98),(796,4.51),(788,4.05),(783,3.73),(804.4,3.98),(805,3.67),(800.7,3.42),(815.9,5.39),(816.8,5.05),(816.8,4.75),(766,3.05),(777.6,3.2),(783,3.5),
(881.4,5.97),(882.3,5.49),(851.4,4.55),(856,4.55),(852.3,4.3),(868.5,4.7),(826,4.05),(840.8,3.8),(833,3.67),(858,3.67),(844.5,3.42),
(922.9,5.45),(927.5,5.46),(926.5,5.24),(932,5.24),(926.5,5.05),(932,5.05),(922.9,4.67),(944.5,5.79),(944.5,5.43),(945.9,5.24),(945.9,4.92),(886.9,4.6),(894,4.45),(888.3,4.17),(902,3.42),(911.3,3.55),(936.7,4.4),
(962,5.49),(955,4.74),(982.8,4),(962,4.48),(957.4,4.55),
(989.7,5.58),(988.3,5.43),(988.8,4.8),(988.8,4.64),(987.4,4.3),(989.7,3.92),(1005.8,3.58),(996.6,3),(1012.8,3.73),(1022.9,4.86),(1017.4,4.4),(1024,4.6),(1024,3.67),(1008,2.4),
(1040.4,5.36),(1052.9,5.3),(1029,5.03),(1040.4,4.99),(1035.8,4.74),(1042.7,4.55),
(1059.8,6.37),(1059.8,6.03),(1059.8,5.78),(1059.8,5.43),(1065.8,3.9),(1068,3.3),(1079.6,3.2),(1075,2.8),(1072.7,2.3),(1072.7,1.72),
(1088,5.97),(1088,5.68),(1088,5.43),(1088,5.24),(1088,5.05),
(1098,6.36),(1098,4.99),(1098,4.8),(1098,4.48),(1095.8,4.05),(1107.3,9.01),(1107.3,8.88),(1107.3,8.29),(1107.3,8.25),(1107.3,7.94),(1107.3,7.69),
(1126,6.97),(1126,6.75),(1126,6.09),(1126,5.87),(1125.6,5.24),(1125.6,5.05),(1125.7,4.74),(1123.4,4.42),(1116.5,3.92),
(1134,5.74),(1129.4,5.3),(1129.4,4.92),(1135,4.92),(1160.3,5.24),(1160.3,4.6),(1153.4,4.51),(1148.8,4.3),(1164.9,3.98),(1148.8,4.05),
(1199.8,6.05),(1199.5,5.97),(1199.5,5.49),(1199.5,5.18),(1199.5,4.99),(1199.5,4.74),(1199.5,4.55),(1177.8,4.6),(1187,4.6),(1181,4.05),
(1204,5.5),(1204,4.49),(1211,4.23),(1214.7,4.17),(1215.6,3.85),(1213,3.42),(1240.5,5.65),(1237.3,4.7),(1238.7,4.42),(1238.7,4.17),(1229.5,2.3),
(1271,5.93),(1267.7,4.96),(1271,4.96),(1267.7,4.8),(1267.7,4.36),(1257,4.38),(1249.3,4.26),(1268.6,4.17),
(1280,4.72),(1278,4.17),(1290.8,4.05),(1307.8,5.06),(1304.6,4.79),(1305.5,4.48),(1307.8,4.23),(1310,4.05),(1311,4.3),(1303,3.8),
(1328.6,4.84),(1319.4,4.3),(1324,4.17),(1326,3.8),(1348.4,6.09),(1351.6,5.93),(1350,5.33),(1350.7,5.11),(1349.3,4.92),(1349.3,4.67),(1340,2.8),
(1360.9,6.22),(1361.8,6.05),(1360.9,5.9),(1358.5,5.36),(1360.9,5.1),(1360.9,4.86),(1384,7.44),(1384.8,7.25),
(1395,5.62),(1399,5.03),(1395.4,4.86),(1397.7,4.67),(1395.4,4.42),(1416,4.67),(1418.5,3.8),(1429,6.05),(1429,5.93),(1425.4,5.05)]

PANELS = [
 ("GWAS on fiber length", FL_edges, FL_ticks, FL_ridge, FL_peaks, FL_dots, (37.7, 302.7), 28, 167),
 ("GWAS on fiber strength", FS_edges, FS_ticks, FS_ridge, FS_peaks, FS_dots, (380.7, 646), 369, 512),
 ("GWAS on fiber elongation", FE_edges, FE_ticks, FE_ridge, FE_peaks, FE_dots, (727.7, 992.7), 721, 850),
 ("GWAS on fiber uniformity", FU_edges, FU_ticks, FU_ridge, FU_peaks, FU_dots, (1072.3, 1337.3), 1061, 1205),
]
PEAK_LABELS = [("FL1",396,94),("FL2",567,56),("FL3",623,42),("FL4",780,96),("FL5",922,103),("FL6",967,75),("FL7",1110,60),("FL8",1167,97),("FL9",1330,37),("FL10",1374,79),
 ("FS1",486,436),("FS2",758,426),("FS3",866,364),("FS4",1088,394),("FS5",1133,439),("FS6",1194,430),
 ("FE1",397,766),("FE2",561,774),("FE3",620,779),("FE4",875,760),("FE5",908,792),("FE6",1022,763),("FE7",1092,706),("FE8",1120,767),
 ("FU1",133,1122),("FU2",684,1069),("FU3",1107,1076),("FU4",1382,1115)]
AXIS_LABELS = [("A01",147),("A02",216),("A03",279),("A04",340),("A05",397),("A06",465),("A07",534),("A08",596),("A09",656),("A10",717),("A11",781),("A12",851),("A13",910),("D01",961),("D03",1041),("D05",1108),("D07",1183),("D09",1256),("D11",1335),("D13",1409)]

BLUE, ORANGE = "#0000ff", "#ffa500"
SANS = "Liberation Sans, Arial, sans-serif"
px = lambda v: v / W
py = lambda v: 1 - v / H

fig = go.Figure()
annotations, shapes = [], []
layout = {}
for i, (title, edges, ticks, ridge, peaks, dots, (ytop, ybot), ytitle, ylab) in enumerate(PANELS):
    n = "" if i == 0 else str(i + 1)
    xa, ya = f"x{n}", f"y{n}"
    edges_a = np.array(edges)
    colour_of = lambda x: (np.searchsorted(edges_a, x) - 1) % 2  # 0 blue, 1 orange
    for c, col in enumerate((BLUE, ORANGE)):
        xs, ys = [], []
        for k, r in enumerate(ridge):
            if k % 2 != c:
                continue
            st = np.linspace(edges[k], edges[k + 1], len(r))
            xs += [edges[k]] + list(st) + [edges[k + 1], None]
            ys += [0] + list(r) + [0, None]
        fig.add_trace(go.Scatter(x=xs, y=ys, mode="lines", fill="toself", fillcolor=col,
                                 line=dict(width=1.5, color=col), xaxis=xa, yaxis=ya,
                                 hoverinfo="skip", showlegend=False))
        sx, sy = [], []
        for x, h in peaks:
            if colour_of(x) == c:
                sx += [x, x, None]
                sy += [0, h, None]
        fig.add_trace(go.Scatter(x=sx, y=sy, mode="lines", line=dict(width=3.8, color=col),
                                 xaxis=xa, yaxis=ya, hoverinfo="skip", showlegend=False))
        dx = [d[0] for d in dots if colour_of(d[0]) == c]
        dy = [d[1] for d in dots if colour_of(d[0]) == c]
        fig.add_trace(go.Scatter(x=dx, y=dy, mode="markers", marker=dict(size=4.4, color=col),
                                 xaxis=xa, yaxis=ya, cliponaxis=False, showlegend=False))
    layout[f"xaxis{n}"] = dict(domain=[px(103), 1], range=[103, 1443], anchor=ya, showgrid=False, zeroline=False,
                               showline=False, tickmode="array", tickvals=ticks, showticklabels=False, automargin=False,
                               ticks="outside", ticklen=6, tickwidth=1.5, tickcolor="#666666")
    layout[f"yaxis{n}"] = dict(domain=[py(ybot), py(ytop)], range=[0, 10], anchor=xa, showgrid=False, zeroline=False,
                               showline=True, linecolor="black", linewidth=2, tickmode="array", tickvals=[0, 2, 4, 6, 8, 10],
                               ticks="outside", ticklen=7, tickwidth=2, tickcolor="black", ticklabelstandoff=3, automargin=False,
                               tickfont=dict(family=SANS, size=25, color="black"))
    shapes.append(dict(type="line", xref=xa, yref=ya, x0=103, x1=1443, y0=THRESHOLD, y1=THRESHOLD,
                       line=dict(color="rgba(255,0,0,0.42)", width=2), layer="above"))
    annotations.append(dict(text=title, xref="paper", yref="paper", x=px(120.5), y=py(ytitle), xanchor="left", yanchor="middle",
                            showarrow=False, font=dict(family=SANS, size=32, color="black")))
    annotations.append(dict(text="-log<sub>10</sub>(<i>P</i>)", xref="paper", yref="paper", x=px(34), y=py(ylab), textangle=-90,
                            xanchor="center", yanchor="middle", showarrow=False, font=dict(family=SANS, size=30, color="black")))

for t, x, y in PEAK_LABELS:
    annotations.append(dict(text=t, xref="paper", yref="paper", x=px(x), y=py(y), xanchor="center", yanchor="middle",
                            showarrow=False, font=dict(family=SANS, size=25, color="black")))
for t, x in AXIS_LABELS:
    annotations.append(dict(text=t, xref="paper", yref="paper", x=px(x), y=py(1365), xanchor="center", yanchor="middle",
                            showarrow=False, font=dict(family=SANS, size=25, color="black")))
annotations.append(dict(text="nph_16468_f1.pdf", xref="paper", yref="paper", x=px(780), y=py(27), xanchor="center", yanchor="middle",
                        showarrow=False, font=dict(family="Liberation Serif, serif", size=33, color="#222222")))

fig.update_layout(width=W, height=H, margin=dict(l=0, r=0, t=0, b=0), paper_bgcolor="white", plot_bgcolor="white",
                  showlegend=False, annotations=annotations, shapes=shapes, **layout)
fig.write_html("out.html", post_script="document.body.style.margin='0';", config=dict(displayModeBar=False))
